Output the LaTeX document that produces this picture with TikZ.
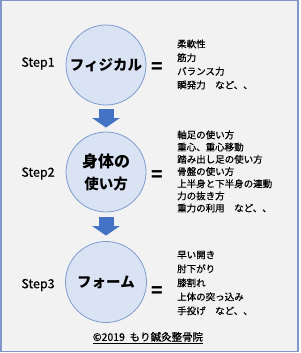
\documentclass[tikz,border=0pt]{standalone}
\usepackage{fontspec}
\setmainfont{Noto Sans CJK JP}
\newfontfamily\listfont[FakeBold=0.6,AutoFakeBold=0.6]{Noto Sans CJK JP}
\usetikzlibrary{arrows.meta}
\definecolor{bgcol}{HTML}{F2F2F2}
\definecolor{framecol}{HTML}{7F98C8}
\definecolor{circfill}{HTML}{DAE3F3}
\definecolor{circdraw}{HTML}{7F9BD0}
\definecolor{arrowcol}{HTML}{4472C4}
\tikzset{
  stepcircle/.style={circle, draw=circdraw, fill=circfill, line width=0.8pt, minimum size=80pt, inner sep=0pt, align=center, font=\fontsize{14.5pt}{22pt}\selectfont\bfseries},
  steplabel/.style={inner sep=0pt, font=\listfont\fontsize{12.5pt}{14pt}\selectfont},
  eqsign/.style={inner sep=0pt, font=\fontsize{19pt}{20pt}\selectfont\bfseries},
  itemlist/.style={inner sep=0pt, anchor=west, align=left},
  blockarrow/.style={draw=arrowcol, line width=15pt, line cap=butt, -{Triangle[width=27pt,length=9.5pt]}, arrowcol},
}
\begin{document}
\begin{tikzpicture}[x=1pt,y=-1pt]
\useasboundingbox (0,0) rectangle (300,353);
\fill[white] (0,0) rectangle (300,353);
\draw[framecol, fill=bgcol, line width=1.5pt] (0.75,0.75) rectangle (298,351.5);

\node[stepcircle] (c1) at (106,65) {フィジカル};
\node[stepcircle] (c2) at (106,172) {\fontsize{16pt}{22pt}\selectfont 身体の\\使い方};
\node[stepcircle, minimum size=81pt] (c3) at (106,282) {フォーム};

\draw[blockarrow, shorten <=3.5pt, shorten >=4pt] (c1) -- (c2);
\draw[blockarrow, shorten <=5pt, shorten >=5.5pt] (c2) -- (c3);

\node[steplabel] (s1) at (38,63.5) {Step1};
\node[steplabel] (s2) at (38,173.5) {Step2};
\node[steplabel] (s3) at (38,285) {Step3};

\node[eqsign] (e1) at (157.5,68) {=};
\node[eqsign] (e2) at (157.5,176) {=};
\node[eqsign] (e3) at (157.5,292) {=};

\node[itemlist, font=\listfont\fontsize{9.5pt}{13.7pt}\selectfont] (l1) at (177,64.5)
  {柔軟性\\筋力\\バランス力\\瞬発力　など、、};
\node[itemlist, font=\listfont\fontsize{9.5pt}{12.2pt}\selectfont] (l2) at (177,171.5)
  {軸足の使い方\\重心、重心移動\\踏み出し足の使い方\\骨盤の使い方\\上半身と下半身の連動\\力の抜き方\\重力の利用　など、、};
\node[itemlist, font=\listfont\fontsize{9.5pt}{14pt}\selectfont] (l3) at (177,283)
  {早い開き\\肘下がり\\膝割れ\\上体の突っ込み\\手投げ　など、、};

\node[inner sep=0pt, font=\listfont\fontsize{10.5pt}{12pt}\selectfont] (copy) at (148,338)
  {\underline{©2019\ \ もり鍼灸整骨院}};
\end{tikzpicture}
\end{document}
